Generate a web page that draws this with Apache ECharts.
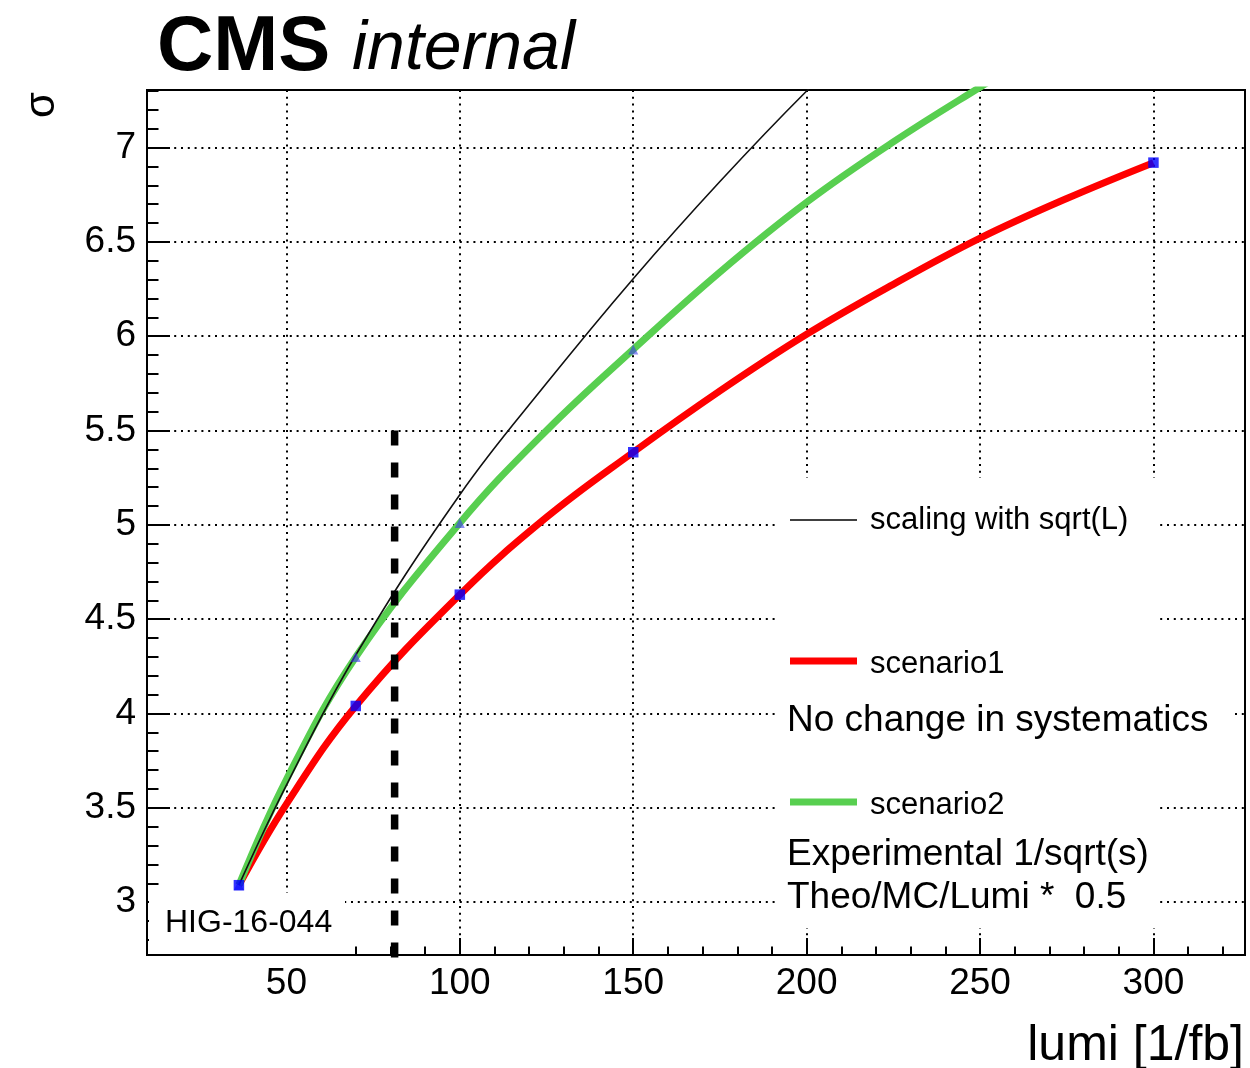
<!DOCTYPE html>
<html>
<head>
<meta charset="utf-8">
<script src="https://cdn.jsdelivr.net/npm/echarts@6/dist/echarts.min.js"></script>
<style>html,body{margin:0;padding:0;background:#fff}#c{width:1250px;height:1068px}</style>
</head>
<body>
<div id="c"></div>
<script>
// ---- data ----
const lumiCurve        = [36.3, 50, 70, 100, 125, 150, 175, 200, 225, 250, 275, 300];
const scenario1Curve   = [3.09, 3.52, 4.04, 4.63, 5.04, 5.385, 5.71, 6.01, 6.275, 6.52, 6.73, 6.92];
const scenario2Curve   = [3.09, 3.65, 4.30, 5.01, 5.50, 5.93, 6.34, 6.71, 7.03, 7.32, 7.60, 7.87];
const sqrtScalingCurve = [3.09, 3.62, 4.31, 5.16, 5.75, 6.305, 6.82, 7.30, 7.74, 8.16, 8.56, 8.94];

const scenario1Lumi  = [36.3, 70, 100, 150, 300];
const scenario1Sigma = [3.09, 4.04, 4.63, 5.385, 6.92];
const scenario2Lumi  = [36.3, 70, 100, 150];
const scenario2Sigma = [3.09, 4.30, 5.01, 5.93];

const markerLumi       = [81.2, 81.2];
const markerSigmaRange = [5.5, 2.5];

const xTickLabels = [50, 100, 150, 200, 250, 300];
const yTickLabels = [3, 3.5, 4, 4.5, 5, 5.5, 6, 6.5, 7];

const xMin = 9.8, xMax = 326.4, yMin = 2.72, yMax = 7.305;

const xMinorTicks = [];
for (let v = 20; v <= 320; v += 10) if (v % 50 !== 0) xMinorTicks.push(v);
const yMinorTicks = [];
for (let k = 28; k <= 73; k++) if (k % 5 !== 0) yMinorTicks.push(k / 10);

const pairs = (xs, ys) => xs.map((x, i) => [x, ys[i]]);

const FONT = "'Liberation Sans', Arial, Helvetica, sans-serif";
const dotted = { color: '#000', width: 2, type: [2, 4.8] };
const black2 = { color: '#000', width: 2 };

const chart = echarts.init(document.getElementById('c'), null, { renderer: 'canvas' });

const option = {
  animation: false,
  backgroundColor: '#fff',
  grid: { left: 147, top: 90, right: 5, bottom: 113, show: true, borderColor: '#000', borderWidth: 2, backgroundColor: 'transparent' },
  xAxis: [
    {
      type: 'value', min: xMin, max: xMax,
      axisLine: { show: true, onZero: false, lineStyle: black2 },
      axisTick: { show: true, inside: true, length: 17, customValues: xTickLabels, lineStyle: black2 },
      axisLabel: { customValues: xTickLabels, color: '#000', fontSize: 37, fontFamily: FONT, margin: 10 },
      splitLine: { show: true, lineStyle: dotted }
    },
    {
      type: 'value', min: xMin, max: xMax, position: 'bottom',
      axisLine: { show: false },
      axisTick: { show: true, inside: true, length: 8.5, customValues: xMinorTicks, lineStyle: black2 },
      axisLabel: { show: false },
      splitLine: { show: false }
    }
  ],
  yAxis: [
    {
      type: 'value', min: yMin, max: yMax,
      axisLine: { show: true, onZero: false, lineStyle: black2 },
      axisTick: { show: true, inside: true, length: 23, customValues: yTickLabels, lineStyle: black2 },
      axisLabel: { customValues: yTickLabels, color: '#000', fontSize: 37, fontFamily: FONT, margin: 11 },
      splitLine: { show: true, lineStyle: dotted }
    },
    {
      type: 'value', min: yMin, max: yMax, position: 'left',
      axisLine: { show: false },
      axisTick: { show: true, inside: true, length: 11.5, customValues: yMinorTicks, lineStyle: black2 },
      axisLabel: { show: false },
      splitLine: { show: false }
    }
  ],
  series: [
    {
      name: 'scenario1', type: 'line', data: pairs(lumiCurve, scenario1Curve),
      smooth: 0.4, showSymbol: false, symbol: 'none', clip: true, z: 2,
      lineStyle: { color: '#ff0000', width: 7 }
    },
    {
      name: 'scenario2', type: 'line', data: pairs(lumiCurve, scenario2Curve),
      smooth: 0.4, showSymbol: false, symbol: 'none', clip: true, z: 3,
      lineStyle: { color: '#58cf50', width: 7 }
    },
    {
      name: 'scaling with sqrt(L)', type: 'line', data: pairs(lumiCurve, sqrtScalingCurve),
      smooth: 0.4, showSymbol: false, symbol: 'none', clip: true, z: 4,
      lineStyle: { color: '#111', width: 1.6 }
    },
    {
      name: 'reference lumi', type: 'line', data: pairs(markerLumi, markerSigmaRange),
      showSymbol: false, symbol: 'none', clip: true, z: 5,
      lineStyle: { color: '#000', width: 7.5, type: [15, 17] }
    },
    {
      name: 'scenario2 points', type: 'scatter', data: pairs(scenario2Lumi, scenario2Sigma),
      symbol: 'triangle', symbolSize: 10, z: 6,
      itemStyle: { color: 'rgba(60,60,235,0.75)' }
    },
    {
      name: 'scenario1 points', type: 'scatter', data: pairs(scenario1Lumi, scenario1Sigma),
      symbol: 'rect', symbolSize: 10.5, z: 7,
      itemStyle: { color: '#0000ff' }
    }
  ],
  graphic: [
    { type: 'rect', z: 1, shape: { x: 775, y: 478, width: 385, height: 450 }, style: { fill: '#fff' } },
    { type: 'rect', z: 1, shape: { x: 775, y: 694, width: 458, height: 52 }, style: { fill: '#fff' } },
    { type: 'rect', z: 1, shape: { x: 149, y: 893, width: 196, height: 61 }, style: { fill: '#fff' } },
    { type: 'line', z: 10, shape: { x1: 790, y1: 520, x2: 857, y2: 520 }, style: { stroke: '#000', lineWidth: 1.6 } },
    { type: 'line', z: 10, shape: { x1: 790, y1: 661, x2: 857, y2: 661 }, style: { stroke: '#ff0000', lineWidth: 7 } },
    { type: 'line', z: 10, shape: { x1: 790, y1: 802, x2: 857, y2: 802 }, style: { stroke: '#58cf50', lineWidth: 7 } },
    { type: 'text', z: 10, x: 870, y: 520, style: { text: 'scaling with sqrt(L)', fontSize: 31, fontFamily: FONT, fill: '#000', align: 'left', verticalAlign: 'middle' } },
    { type: 'text', z: 10, x: 870, y: 664, style: { text: 'scenario1', fontSize: 31, fontFamily: FONT, fill: '#000', align: 'left', verticalAlign: 'middle' } },
    { type: 'text', z: 10, x: 787, y: 721, style: { text: 'No change in systematics', fontSize: 37, fontFamily: FONT, fill: '#000', align: 'left', verticalAlign: 'middle' } },
    { type: 'text', z: 10, x: 870, y: 805, style: { text: 'scenario2', fontSize: 31, fontFamily: FONT, fill: '#000', align: 'left', verticalAlign: 'middle' } },
    { type: 'text', z: 10, x: 787, y: 855, style: { text: 'Experimental 1/sqrt(s)', fontSize: 37, fontFamily: FONT, fill: '#000', align: 'left', verticalAlign: 'middle' } },
    { type: 'text', z: 10, x: 787, y: 898, style: { text: 'Theo/MC/Lumi *  0.5', fontSize: 37, fontFamily: FONT, fill: '#000', align: 'left', verticalAlign: 'middle' } },
    { type: 'text', z: 10, x: 165, y: 923, style: { text: 'HIG-16-044', fontSize: 32, fontFamily: FONT, fill: '#000', align: 'left', verticalAlign: 'middle' } },
    { type: 'text', z: 10, x: 157, y: 48, style: { text: 'CMS', fontSize: 78, fontWeight: 'bold', fontFamily: FONT, fill: '#000', align: 'left', verticalAlign: 'middle' } },
    { type: 'text', z: 10, x: 352, y: 50, style: { text: 'internal', fontSize: 68, fontStyle: 'italic', fontFamily: FONT, fill: '#000', align: 'left', verticalAlign: 'middle' } },
    { type: 'text', z: 10, x: 42, y: 105, rotation: Math.PI / 2, style: { text: 'σ', fontSize: 42, fontFamily: FONT, fill: '#000', align: 'center', verticalAlign: 'middle' } },
    { type: 'text', z: 10, x: 1244, y: 1046, style: { text: 'lumi [1/fb]', fontSize: 50, fontFamily: FONT, fill: '#000', align: 'right', verticalAlign: 'middle' } }
  ]
};
chart.setOption(option);
</script>
</body>
</html>
